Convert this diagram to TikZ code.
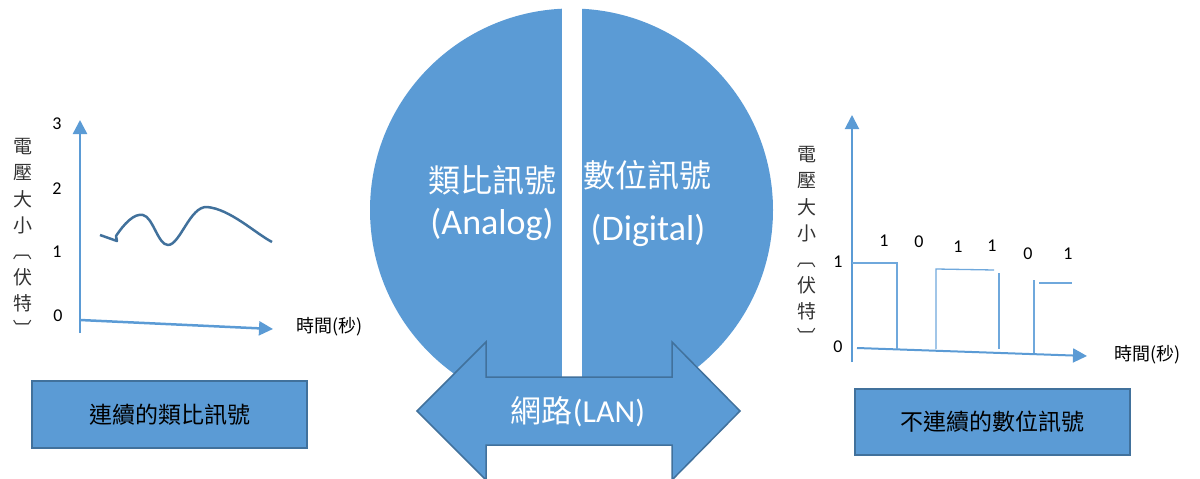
\documentclass[tikz,border=0pt]{standalone}
\usepackage{fontspec}
\setmainfont{Carlito}
\newfontfamily\cjk{Noto Sans CJK TC}
\usetikzlibrary{arrows.meta}
\definecolor{blu}{HTML}{5B9BD5}
\definecolor{dblu}{HTML}{41719C}
\definecolor{lblu}{HTML}{6FA8DC}
\begin{document}
\begin{tikzpicture}[x=1pt,y=-1pt,
  axisL/.style={draw=blu, line width=2.5pt, -{Triangle[width=14pt,length=14pt]}},
  axisR/.style={draw=blu, line width=2pt, -{Triangle[width=14pt,length=14pt]}},
  sig/.style={draw=lblu, line width=1.3pt},
  wave/.style={draw=dblu, line width=2.5pt, line join=round},
  num/.style={font=\fontsize{18}{20}\selectfont, inner sep=0pt},
  vch/.style={font=\cjk\fontsize{19}{22}\selectfont, inner sep=0pt, text=black!80},
  tlab/.style={font=\cjk\fontsize{18}{20}\selectfont, inner sep=0pt, anchor=west},
  boxnode/.style={draw=dblu, line width=1.5pt, fill=blu, font=\cjk\fontsize{23}{26}\selectfont},
  white32/.style={text=white, inner sep=0pt}
]
\useasboundingbox (0,0) rectangle (1200,479);
% circle with white gap
\fill[blu] (571.5,210) circle (201.5);
\fill[white] (562,0) rectangle (582,378);
\node[white32, font=\cjk\fontsize{32}{34}\selectfont] (anzh) at (492,180) {類比訊號};
\node[white32, font=\fontsize{36}{38}\selectfont] (anen) at (492,224) {(Analog)};
\node[white32, font=\cjk\fontsize{32}{34}\selectfont] (dizh) at (647,175) {數位訊號};
\node[white32, font=\fontsize{36}{38}\selectfont] (dien) at (648,230) {(Digital)};
% double arrow
\draw[fill=blu, draw=dblu, line width=1.5pt, line join=miter]
  (417,411) -- (486,342) -- (486,377) -- (672,377) -- (672,342) -- (740,411)
  -- (672,480) -- (672,445) -- (486,445) -- (486,480) -- cycle;
\node[white32] (lan) at (578,412) {{\cjk\fontsize{31}{33}\selectfont 網路}{\fontsize{32}{34}\selectfont (LAN)}};
% left chart
\coordinate (lo) at (80,333);
\coordinate (ly) at (80,120);
\coordinate (lx0) at (80,320);
\coordinate (lx) at (273,329);
\draw[axisL] (lo) -- (ly);
\draw[axisL] (lx0) -- (lx);
\node[num] (l3) at (57,124) {3};
\node[num] (l2) at (57,189) {2};
\node[num] (l1) at (57,252) {1};
\node[num] (l0) at (58,316) {0};
\foreach \c/\r [count=\i] in {電/0,壓/0,大/0,小/0,〔/-90,伏/0,特/0,〕/-90}
  \node[vch, rotate=\r] (lv\i) at (23,{147+26*(\i-1)}) {\c};
\node[tlab] (lt) at (296,327) {時間(秒)};
\draw[wave] (100,235) -- (117,241) -- (116,236)
  .. controls (124,224) and (134,213) .. (143,215)
  .. controls (153,217) and (158,245) .. (168,245)
  .. controls (180,245) and (190,206) .. (207,207)
  .. controls (230,209) and (255,233) .. (272,242);
% right chart
\coordinate (ro) at (852,362);
\coordinate (ry) at (852,115);
\coordinate (rx0) at (857,348);
\coordinate (rx) at (1087,356);
\draw[axisR] (ro) -- (ry);
\draw[axisR] (rx0) -- (rx);
\node[num] (r1) at (838,262) {1};
\node[num] (r0) at (838,347) {0};
\foreach \c/\r [count=\i] in {電/0,壓/0,大/0,小/0,〔/-90,伏/0,特/0,〕/-90}
  \node[vch, rotate=\r] (rv\i) at (807,{155+26*(\i-1)}) {\c};
\node[tlab] (rt) at (1114,355) {時間(秒)};
\node[num] (b1) at (884,241) {1};
\node[num] (b2) at (919,242) {0};
\node[num] (b3) at (958,247) {1};
\node[num] (b4) at (992,246) {1};
\node[num] (b5) at (1028,254) {0};
\node[num] (b6) at (1068,254) {1};
\draw[sig] (852,263) -- (897,263) -- (897,349);
\draw[sig] (936,349) -- (936,269) -- (994,270);
\draw[sig] (999,273) -- (999,349);
\draw[sig] (1034,353) -- (1034,280);
\draw[sig] (1039,283) -- (1072,283);
% boxes
\node[boxnode, minimum width=275pt, minimum height=67pt] (lbox) at (169.5,414.5) {連續的類比訊號};
\node[boxnode, minimum width=275pt, minimum height=66pt] (rbox) at (992.5,422) {不連續的數位訊號};
\end{tikzpicture}
\end{document}
